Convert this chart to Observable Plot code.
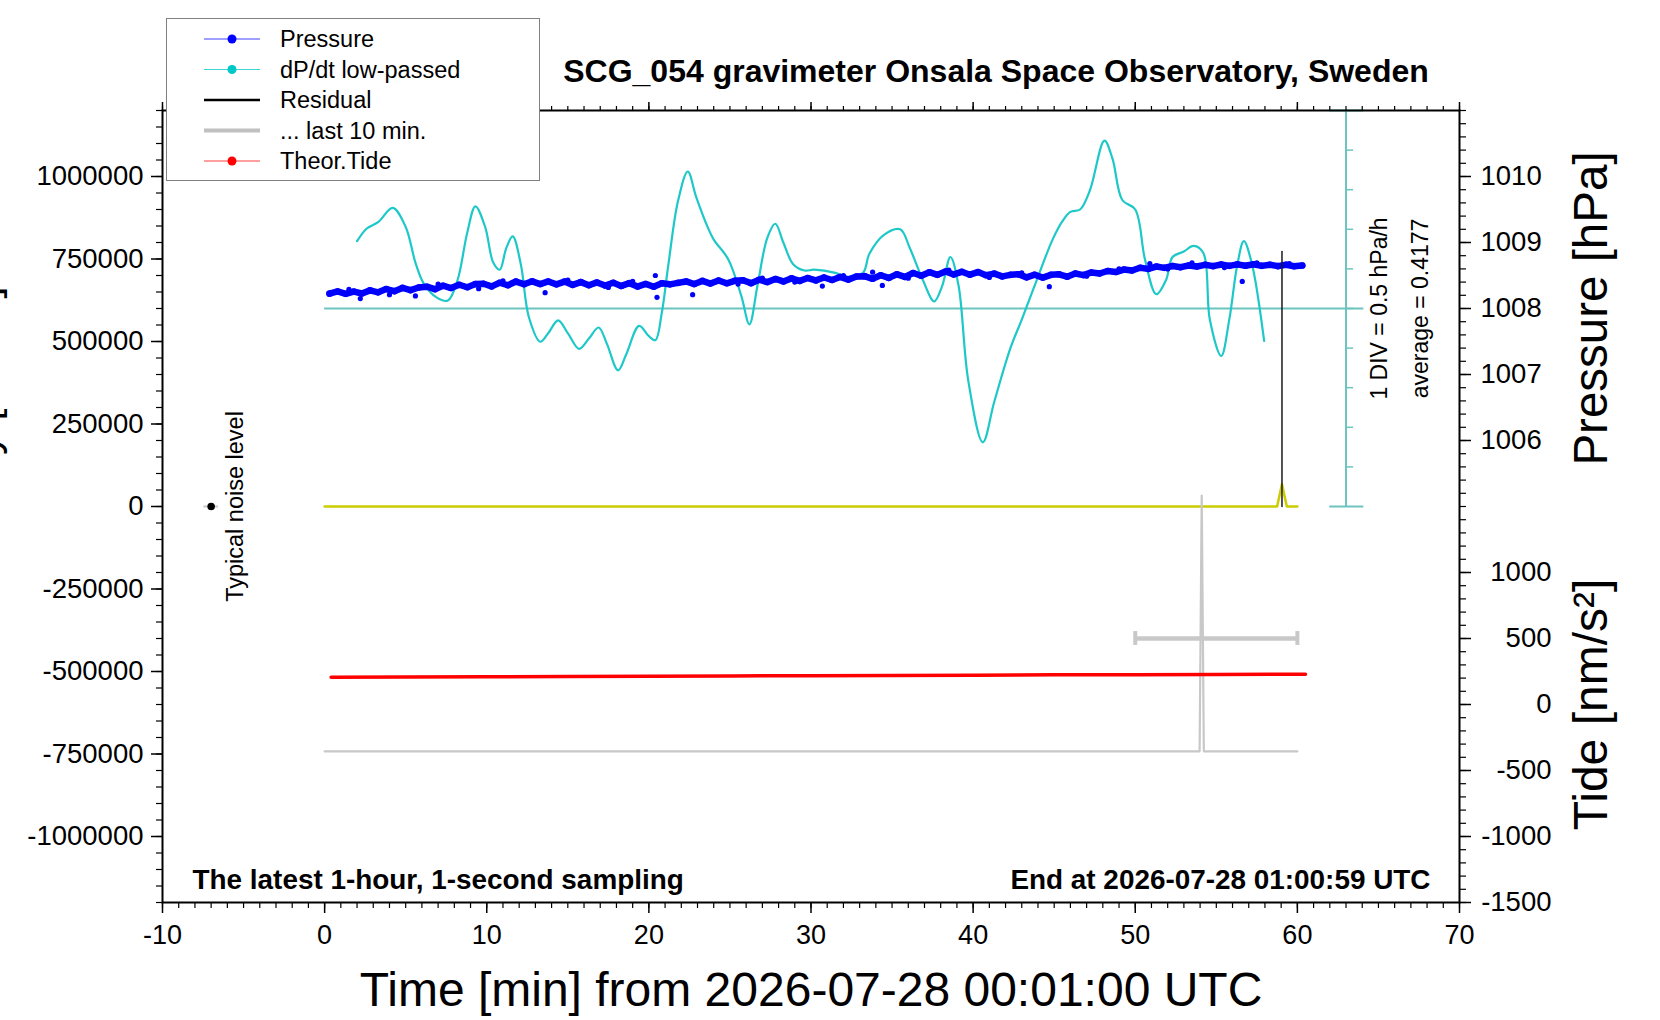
<!DOCTYPE html>
<html>
<head>
<meta charset="utf-8">
<script src="https://cdn.jsdelivr.net/npm/d3@7"></script>
<script src="https://cdn.jsdelivr.net/npm/@observablehq/plot@0.6"></script>
<style>
  html, body { margin: 0; padding: 0; background: #fff; }
  #wrap { position: relative; width: 1660px; height: 1020px; overflow: hidden; background: #fff;
          font-family: "Liberation Sans", Arial, Helvetica, sans-serif; }
  #wrap > svg { position: absolute; left: 0; top: 0; z-index: 1; }
  #legend { position: absolute; left: 166px; top: 18px; width: 372px; height: 161px;
            border: 1px solid #808080; background: #fff; z-index: 2; }
</style>
</head>
<body>
<div id="wrap"><div id="legend"></div></div>
<script>
// ---------------- data ----------------
const timeMajorTicks = [-10, 0, 10, 20, 30, 40, 50, 60, 70];
const leftTicks = [-1000000, -750000, -500000, -250000, 0, 250000, 500000, 750000, 1000000];
const pressureTicks = [1006, 1007, 1008, 1009, 1010];
const tideTicks = [-1500, -1000, -500, 0, 500, 1000];

// air pressure [hPa], 1 value every 0.5 min starting at 0.3 min
const pressureStart = 0.3, pressureStep = 0.5;
const pressureValues = [
  1008.225, 1008.258, 1008.222, 1008.255, 1008.228, 1008.275, 1008.245, 1008.295, 1008.262, 1008.312,
  1008.278, 1008.318, 1008.330, 1008.292, 1008.345, 1008.310, 1008.360, 1008.322, 1008.370, 1008.375,
  1008.335, 1008.390, 1008.352, 1008.408, 1008.368, 1008.412, 1008.370, 1008.410, 1008.366, 1008.408,
  1008.358, 1008.400, 1008.352, 1008.395, 1008.348, 1008.390, 1008.342, 1008.384, 1008.332, 1008.372,
  1008.330, 1008.382, 1008.366, 1008.388, 1008.410, 1008.370, 1008.418, 1008.378, 1008.424, 1008.382,
  1008.420, 1008.428, 1008.384, 1008.436, 1008.400, 1008.448, 1008.410, 1008.456, 1008.418, 1008.462,
  1008.426, 1008.470, 1008.432, 1008.478, 1008.438, 1008.484, 1008.490, 1008.450, 1008.504, 1008.464,
  1008.518, 1008.478, 1008.538, 1008.496, 1008.550, 1008.510, 1008.560, 1008.516, 1008.556, 1008.512,
  1008.552, 1008.504, 1008.528, 1008.486, 1008.510, 1008.520, 1008.472, 1008.512, 1008.468, 1008.510,
  1008.518, 1008.482, 1008.530, 1008.506, 1008.546, 1008.530, 1008.568, 1008.552, 1008.590, 1008.576,
  1008.618, 1008.600, 1008.636, 1008.616, 1008.644, 1008.626, 1008.652, 1008.636, 1008.662, 1008.642,
  1008.666, 1008.646, 1008.668, 1008.648, 1008.670, 1008.646, 1008.664, 1008.642, 1008.662, 1008.640,
  1008.652
];
const pressureOutlierTimes  = [2.2, 5.6, 13.6, 20.5, 22.7, 30.7, 34.4, 44.7, 56.6, 20.4, 33.8, 50.9,
  1.5, 4.0, 7.0, 9.5, 11.0, 15.0, 17.5, 19.0, 25.5, 27.0, 29.0, 32.0, 36.0, 38.5, 41.0, 43.0, 47.0,
  49.0, 52.0, 53.5, 55.5, 57.5, 59.5];
const pressureOutlierValues = [1008.15, 1008.19, 1008.24, 1008.17, 1008.21, 1008.34, 1008.35, 1008.33, 1008.41, 1008.50, 1008.55, 1008.68,
  1008.29, 1008.21, 1008.37, 1008.30, 1008.42, 1008.43, 1008.32, 1008.41, 1008.37, 1008.46, 1008.40, 1008.50, 1008.46, 1008.58, 1008.47, 1008.54, 1008.49,
  1008.60, 1008.60, 1008.69, 1008.62, 1008.69, 1008.68];

// dP/dt low-passed [hPa/h]
const dpdtTimes = [2.0, 2.6, 3.3, 4.2, 5.0, 5.6, 6.1, 6.9, 7.6, 8.2, 8.8, 9.3, 9.9, 10.4, 10.8, 11.2, 11.6,
  12.1, 12.6, 13.3, 13.8, 14.4, 15.0, 15.7, 16.3, 16.9, 17.4, 18.1, 18.6, 19.4, 20.0, 20.4, 20.8, 21.2,
  21.8, 22.4, 22.9, 23.6, 24.0, 24.9, 25.7, 26.2, 26.7, 27.3, 27.8, 28.3, 28.9, 29.6, 30.2, 31.5, 32.2,
  33.2, 33.6, 34.5, 35.5, 36.1, 36.9, 37.6, 38.1, 38.6, 39.1, 39.7, 40.6, 41.3, 42.3, 43.0, 44.0, 44.9,
  45.5, 46.0, 46.6, 47.2, 48.1, 48.6, 49.2, 50.0, 50.6, 51.3, 51.9, 52.3, 53.0, 53.6, 54.2, 54.6, 55.3,
  55.8, 56.3, 56.7, 57.2, 57.95];
const dpdtValues = [0.85, 1.01, 1.09, 1.27, 1.03, 0.58, 0.32, 0.14, 0.10, 0.36, 0.96, 1.29, 1.03, 0.58, 0.49, 0.76, 0.91,
  0.56, -0.11, -0.42, -0.31, -0.15, -0.31, -0.51, -0.38, -0.24, -0.44, -0.78, -0.58, -0.22, -0.35, -0.40, -0.05, 0.55,
  1.36, 1.73, 1.42, 1.04, 0.87, 0.62, 0.16, -0.20, 0.29, 0.89, 1.07, 0.83, 0.56, 0.48, 0.49, 0.45, 0.40,
  0.45, 0.69, 0.93, 1.00, 0.76, 0.36, 0.09, 0.29, 0.65, 0.29, -0.91, -1.69, -1.18, -0.50, -0.14, 0.40, 0.87,
  1.10, 1.22, 1.25, 1.49, 2.12, 1.89, 1.37, 1.25, 0.62, 0.18, 0.36, 0.65, 0.72, 0.79, 0.70, -0.14, -0.60,
  -0.14, 0.56, 0.85, 0.56, -0.41];
const dpdtAverage = 0.4177;
const divSize = 0.5;          // hPa/h per division
const divBarTime = 63;        // minute at which the DIV scale bar stands
const divBarCapFrom = 62, divBarCapTo = 64.1;
const zeroLineFrom = 0, zeroLineTo = 64.1;

// theoretical tide [nm/s^2]
const tideTimes  = [0.4, 5, 10, 15, 20, 25, 30, 35, 40, 45, 50, 55, 60.5];
const tideValues = [206.5, 208.5, 210.5, 212.5, 214.5, 216.5, 218.5, 220.5, 222.5, 224.5, 226, 228, 229.5];

// residual (left axis units)
const residualTimes  = [59.05, 59.05];
const residualValues = [0, 773000];
const residualBaseTimes  = [0, 58.75, 59.05, 59.35, 60];
const residualBaseValues = [0, 0, 67000, 0, 0];

// ... last 10 min (left axis units)
const lastTenTimes  = [0, 53.97, 54.1, 54.23, 60];
const lastTenValues = [-742000, -742000, 33000, -742000, -742000];
const lastTenRangeFrom = 50, lastTenRangeTo = 60, lastTenRangeTide = 500;

// typical noise level
const noiseTime = -7, noiseValue = 0, noiseHalfWidth = 0.45;
const noiseLabelTime = -5.5;
const divLabelTime = 65.05, avgLabelTime = 67.6;

// texts
const titleText = "SCG_054 gravimeter Onsala Space Observatory, Sweden";
const xTitle = "Time [min] from 2026-07-28 00:01:00 UTC";
const leftTitle = "Gravity [nm/s²]";
const pressureTitle = "Pressure [hPa]";
const tideTitle = "Tide [nm/s²]";
const samplingNote = "The latest 1-hour, 1-second sampling";
const endNote = "End at 2026-07-28 01:00:59 UTC";
const noiseLabel = "Typical noise level";
const legendLabels = ["Pressure", "dP/dt low-passed", "Residual", "... last 10 min.", "Theor.Tide"];
const legendColors = ["#0000ff", "#00c8c8", "#000000", "#c0c0c0", "#ff0000"];

// ---------------- scale mapping of secondary axes onto the left axis ----------------
const pToY = p => (p - 1005) * 200000;          // 1005..1011 hPa -> 0..1.2e6
const tideToY = t => (t - 1500) * 400;          // -1500..1500 -> -1.2e6..0
const rateToY = r => 600000 + r / divSize * 120000;

const pressureRows = pressureValues.map((p, i) => ({t: pressureStart + i * pressureStep, y: pToY(p)}));
const outlierRows = pressureOutlierValues.map((p, i) => ({t: pressureOutlierTimes[i], y: pToY(p)}));
const dpdtRows = dpdtValues.map((v, i) => ({t: dpdtTimes[i], y: rateToY(v)}));
const tideRows = tideValues.map((v, i) => ({t: tideTimes[i], y: tideToY(v)}));
const residualRows = residualValues.map((v, i) => ({t: residualTimes[i], y: v}));
const residualBaseRows = residualBaseValues.map((v, i) => ({t: residualBaseTimes[i], y: v}));
const lastTenRows = lastTenValues.map((v, i) => ({t: lastTenTimes[i], y: v}));
const divTicks = d3.range(-5, 6).map(k => k * divSize);

const xMinor = d3.range(-10, 70.001, 1);
const leftMinor = d3.range(-1200000, 1200001, 50000);
const pMinor = d3.range(0, 31).map(i => 1005 + i * 0.2);
const tideMinor = d3.range(-1500, 1401, 100);

const cyanBar = "#6cc4c0";
const fontFam = '"Liberation Sans", Arial, Helvetica, sans-serif';
const errY = tideToY(lastTenRangeTide);

const chart = Plot.plot({
  width: 1660, height: 1020,
  marginLeft: 162, marginRight: 201, marginTop: 110, marginBottom: 118,
  x: {domain: [-10, 70]},
  y: {domain: [-1200000, 1200000]},
  style: {fontFamily: fontFam, fontSize: "26px", color: "black", background: "white", overflow: "visible"},
  marks: [
    // DIV scale bar + zero line
    Plot.ruleY([0], {y: rateToY, x1: zeroLineFrom, x2: zeroLineTo, stroke: cyanBar, strokeWidth: 2}),
    Plot.ruleX([divBarTime], {y1: rateToY(-5 * divSize), y2: rateToY(5 * divSize), stroke: cyanBar, strokeWidth: 2}),
    Plot.ruleY(divTicks.filter(d => Math.abs(d) < 5 * divSize), {y: rateToY, x1: divBarTime, x2: divBarTime + 0.47, stroke: cyanBar, strokeWidth: 1.5}),
    Plot.ruleY([-5 * divSize, 5 * divSize], {y: rateToY, x1: divBarCapFrom, x2: divBarCapTo, stroke: cyanBar, strokeWidth: 2}),
    // dP/dt curve
    Plot.line(dpdtRows, {x: "t", y: "y", stroke: "#1ec8c8", strokeWidth: 2.2, curve: "catmull-rom"}),
    // residual baseline (yellow)
    Plot.line(residualBaseRows, {x: "t", y: "y", stroke: "#cccc00", strokeWidth: 2.5}),
    // last 10 min
    Plot.line(lastTenRows, {x: "t", y: "y", stroke: "#c8c8c8", strokeWidth: 2.2}),
    Plot.ruleY([errY], {x1: lastTenRangeFrom, x2: lastTenRangeTo, stroke: "#c8c8c8", strokeWidth: 4.5}),
    Plot.ruleX([lastTenRangeFrom, lastTenRangeTo], {y1: errY - 21000, y2: errY + 21000, stroke: "#c8c8c8", strokeWidth: 4}),
    // theoretical tide
    Plot.line(tideRows, {x: "t", y: "y", stroke: "#ff0000", strokeWidth: 3.5}),
    // pressure
    Plot.line(pressureRows, {x: "t", y: "y", stroke: "#0000ff", strokeWidth: 6.5, strokeLinejoin: "round"}),
    Plot.dot(pressureRows, {x: "t", y: "y", r: 3.3, fill: "#0000ff"}),
    Plot.dot(outlierRows, {x: "t", y: "y", r: 2.6, fill: "#0000ff"}),
    // residual
    Plot.line(residualRows, {x: "t", y: "y", stroke: "#1a1a1a", strokeWidth: 1.5}),
    // typical noise level
    Plot.ruleY([noiseValue], {x1: noiseTime - noiseHalfWidth, x2: noiseTime + noiseHalfWidth, stroke: "#c8c8c8", strokeWidth: 2}),
    Plot.dot([noiseValue], {x: () => noiseTime, y: d => d, r: 3.8, fill: "black"}),
    Plot.text([noiseLabel], {text: d => d, x: () => noiseLabelTime, y: () => noiseValue, rotate: -90, fontSize: 23.5}),
    Plot.text([`1 DIV = ${divSize} hPa/h`], {text: d => d, x: () => divLabelTime, y: () => rateToY(0), rotate: -90, fontSize: 23}),
    Plot.text([`average = ${dpdtAverage}`], {text: d => d, x: () => avgLabelTime, y: () => rateToY(0), rotate: -90, fontSize: 23}),
    // notes
    Plot.text([samplingNote], {text: d => d, frameAnchor: "bottom-left", textAnchor: "start", lineAnchor: "bottom", dx: 30, dy: -14, fontSize: 27.9, fontWeight: "bold"}),
    Plot.text([endNote], {text: d => d, frameAnchor: "bottom-right", textAnchor: "end", lineAnchor: "bottom", dx: -29, dy: -14, fontSize: 27.9, fontWeight: "bold"}),
    Plot.text([titleText], {text: d => d, frameAnchor: "top", textAnchor: "middle", lineAnchor: "bottom", dx: 185, dy: -29, fontSize: 32, fontWeight: "bold"}),
    Plot.text([xTitle], {text: d => d, frameAnchor: "bottom", textAnchor: "middle", lineAnchor: "bottom", dy: 103, fontSize: 48}),
    Plot.text([pressureTitle], {text: d => d, frameAnchor: "right", textAnchor: "middle", y: () => pToY(1008), rotate: -90, dx: 132, fontSize: 47.5}),
    Plot.text([tideTitle], {text: d => d, frameAnchor: "right", textAnchor: "middle", y: () => tideToY(0), rotate: -90, dx: 132, fontSize: 48}),
    Plot.text([leftTitle], {text: d => d, frameAnchor: "left", y: () => 667000, rotate: -90, textAnchor: "end", dx: -179, fontSize: 44}),
    // axes
    Plot.axisX({anchor: "bottom", ticks: timeMajorTicks, tickSize: 11, tickPadding: 11, tickFormat: d => String(d), fontSize: 27, strokeWidth: 1.5, label: null}),
    Plot.axisX({anchor: "bottom", ticks: xMinor, tickSize: 6, fill: "none", strokeWidth: 1.2, label: null}),
    Plot.axisX({anchor: "top", ticks: timeMajorTicks, tickSize: 9, fill: "none", strokeWidth: 1.5, label: null}),
    Plot.axisX({anchor: "top", ticks: xMinor, tickSize: 5, fill: "none", strokeWidth: 1.2, label: null}),
    Plot.axisY({anchor: "left", ticks: leftTicks, tickSize: 11, tickPadding: 8, tickFormat: d => String(d), fontSize: 27.5, strokeWidth: 1.5, label: null}),
    Plot.axisY({anchor: "left", ticks: leftMinor, tickSize: 6, fill: "none", strokeWidth: 1.2, label: null}),
    Plot.axisY({anchor: "right", ticks: pressureTicks.map(pToY), tickSize: 11, tickPadding: 10, tickFormat: y => String(Math.round(y / 200000 + 1005)), fontSize: 27.5, strokeWidth: 1.5, label: null}),
    Plot.axisY({anchor: "right", ticks: pMinor.map(pToY), tickSize: 6, fill: "none", strokeWidth: 1.2, label: null}),
    Plot.axisY({anchor: "right", ticks: tideTicks.map(tideToY), tickSize: 11, tickPadding: 81, textAnchor: "end", tickFormat: y => String(Math.round(y / 400 + 1500)), fontSize: 27.5, strokeWidth: 1.5, label: null}),
    Plot.axisY({anchor: "right", ticks: tideMinor.map(tideToY), tickSize: 6, fill: "none", strokeWidth: 1.2, label: null}),
    Plot.frame({stroke: "black", strokeWidth: 2})
  ]
});
document.getElementById("wrap").appendChild(chart);

// ---------------- legend ----------------
const lg = d3.select("#legend").append("svg").attr("width", 372).attr("height", 161)
  .style("font-family", fontFam);
legendLabels.forEach((label, i) => {
  const cy = 20 + i * 30.5;
  const c = legendColors[i];
  const g = lg.append("g");
  if (i === 2) {
    g.append("line").attr("x1", 37).attr("x2", 93).attr("y1", cy).attr("y2", cy).attr("stroke", c).attr("stroke-width", 2.5);
  } else if (i === 3) {
    g.append("line").attr("x1", 37).attr("x2", 93).attr("y1", cy).attr("y2", cy).attr("stroke", c).attr("stroke-width", 4);
  } else {
    g.append("line").attr("x1", 37).attr("x2", 93).attr("y1", cy).attr("y2", cy).attr("stroke", c).attr("stroke-width", 1).attr("stroke-opacity", 0.75);
    g.append("circle").attr("cx", 65).attr("cy", cy).attr("r", 4.5).attr("fill", c);
  }
  g.append("text").attr("x", 113).attr("y", cy).attr("dy", "0.35em").attr("font-size", 23.5).attr("fill", "black").text(label);
});
</script>
</body>
</html>
